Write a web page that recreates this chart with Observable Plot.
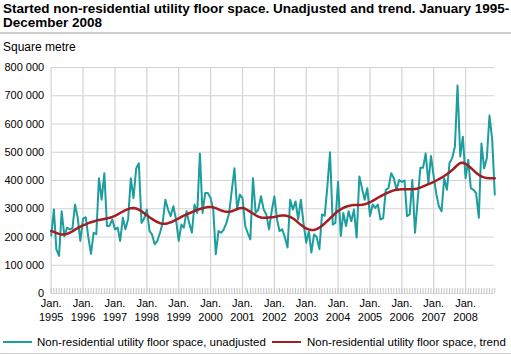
<!DOCTYPE html>
<html><head><meta charset="utf-8">
<script src="https://cdn.jsdelivr.net/npm/d3@7"></script>
<script src="https://cdn.jsdelivr.net/npm/@observablehq/plot@0.6"></script>
<style>
body{margin:0;background:#fff;font-family:"Liberation Sans",Arial,sans-serif;color:#000;}
#wrap{position:relative;width:511px;height:355px;overflow:hidden;background:#fff;}
#title{position:absolute;left:3px;top:2px;font-weight:bold;font-size:13.5px;line-height:14px;white-space:nowrap;}
#rule{position:absolute;left:0;top:32px;width:511px;height:2px;background:#cfcfcf;}
#unit{position:absolute;left:3px;top:40px;font-size:12px;line-height:14px;}
#chart{position:absolute;left:0;top:54px;}
#legend{position:absolute;left:0;top:334px;width:511px;font-size:11.5px;line-height:16px;white-space:nowrap;}
.sw{position:absolute;top:7px;width:29px;height:2px;}
.lbl{position:absolute;top:0;}
#rule2{position:absolute;left:0;top:353px;width:511px;height:1px;background:#cfcfcf;}
</style></head>
<body><div id="wrap">
<div id="title">Started non-residential utility floor space. Unadjusted and trend. January 1995-<br>December 2008</div>
<div id="rule"></div>
<div id="unit">Square metre</div>
<div id="chart"></div>
<div id="legend">
  <div class="sw" style="left:3px;background:#1c9d9e"></div><div class="lbl" style="left:37px" id="l1"></div>
  <div class="sw" style="left:272px;background:#a31d22"></div><div class="lbl" style="left:307px" id="l2"></div>
</div>
<div id="rule2"></div>
</div>
<script>
// Monthly values, thousand square metres, Jan 1995 - Dec 2008
const unadjustedThousands = [
  205, 297, 157, 133, 291, 203, 233, 227, 230, 315, 268, 186, // 1995
  265, 270, 200, 140, 215, 210, 408, 332, 426, 239, 240, 262, // 1996
  227, 233, 186, 268, 227, 265, 408, 338, 443, 461, 250, 265, // 1997
  297, 221, 209, 174, 186, 215, 250, 332, 297, 274, 309, 262, // 1998
  186, 244, 233, 291, 250, 215, 315, 285, 496, 285, 356, 356, // 1999
  338, 297, 139, 221, 215, 227, 250, 285, 367, 443, 297, 350, // 2000
  338, 239, 215, 192, 408, 285, 297, 344, 297, 280, 227, 290, // 2001
  344, 262, 221, 227, 200, 163, 332, 297, 326, 262, 332, 250, // 2002
  180, 220, 145, 209, 200, 157, 280, 275, 380, 500, 244, 250, // 2003
  396, 204, 285, 239, 291, 256, 297, 198, 414, 373, 332, 373, // 2004
  274, 315, 303, 315, 262, 267, 367, 373, 426, 408, 367, 402, // 2005
  395, 400, 274, 280, 402, 215, 330, 445, 445, 496, 391, 487, // 2006
  414, 350, 309, 291, 408, 367, 461, 480, 520, 736, 485, 555, // 2007
  408, 473, 373, 367, 355, 268, 531, 443, 480, 630, 545, 350  // 2008
];
const trendThousands = [
  221, 218, 214, 211, 209, 209, 211, 215, 220, 226, 232, 237,
  241, 245, 249, 252, 255, 258, 260, 262, 264, 266, 268, 271,
  275, 280, 285, 290, 295, 299, 302, 303, 301, 297, 291, 284,
  277, 270, 264, 258, 253, 249, 247, 247, 249, 252, 256, 261,
  266, 271, 276, 280, 284, 288, 292, 296, 299, 302, 304, 306,
  306, 305, 302, 298, 294, 291, 289, 289, 291, 295, 299, 302,
  303, 300, 295, 289, 283, 277, 272, 269, 268, 268, 269, 270,
  271, 273, 275, 276, 276, 274, 271, 266, 259, 251, 243, 236,
  230, 227, 225, 225, 228, 233, 240, 248, 257, 266, 275, 284,
  292, 298, 303, 307, 310, 312, 313, 313, 313, 314, 316, 319,
  323, 328, 333, 339, 344, 349, 354, 358, 362, 365, 367, 368,
  369, 369, 369, 369, 369, 370, 372, 375, 379, 383, 387, 391,
  395, 400, 405, 410, 416, 422, 429, 437, 446, 455, 462, 463,
  459, 452, 445, 436, 427, 420, 414, 411, 409, 408, 408, 408
];
const yearLabels = ["1995","1996","1997","1998","1999","2000","2001","2002","2003","2004","2005","2006","2007","2008"];
const yTicks = [0, 100000, 200000, 300000, 400000, 500000, 600000, 700000, 800000];
const seriesNames = ["Non-residential utility floor space, unadjusted", "Non-residential utility floor space, trend"];
const colors = ["#1c9d9e", "#a31d22"];

document.getElementById("l1").textContent = seriesNames[0];
document.getElementById("l2").textContent = seriesNames[1];

const firstYear = +yearLabels[0];
const rows = unadjustedThousands.map((v, i) => ({
  date: new Date(Date.UTC(firstYear, i, 1)),
  unadjusted: v * 1000,
  trend: trendThousands[i] * 1000
}));
const yearDates = yearLabels.map(y => new Date(Date.UTC(+y, 0, 1)));
const monthDates = rows.map(r => r.date);
const fmt = d => d3.format(",")(d).replace(/,/g, " ");

const chart = Plot.plot({
  width: 511, height: 271,
  marginLeft: 50.7, marginRight: 16.7, marginTop: 13, marginBottom: 32,
  x: {type: "utc", domain: [rows[0].date, rows[rows.length - 1].date]},
  y: {domain: [0, 800000]},
  style: {fontFamily: "'Liberation Sans', Arial, sans-serif", fontSize: "11px", color: "#000", background: "transparent", overflow: "visible"},
  marks: [
    Plot.gridY(yTicks, {stroke: "#d3d3d3", strokeOpacity: 1, strokeWidth: 1.2}),
    Plot.gridX(yearDates, {stroke: "#d3d3d3", strokeOpacity: 1, strokeWidth: 1.2}),
    Plot.axisX(monthDates, {tickSize: 5, dy: -5, tickFormat: () => "", stroke: "#c4c4c4", label: null}),
    Plot.axisX(yearDates, {tickSize: 0, tickPadding: 4, label: null, fontSize: 11, lineHeight: 1.25,
      tickFormat: d => "Jan.\n" + yearLabels[d.getUTCFullYear() - firstYear]}),
    Plot.axisY(yTicks, {tickSize: 0, tickPadding: 7, label: null, fontSize: 11, tickFormat: fmt}),
    Plot.lineY(rows, {x: "date", y: "unadjusted", stroke: colors[0], strokeWidth: 2}),
    Plot.lineY(rows, {x: "date", y: "trend", stroke: colors[1], strokeWidth: 2.5})
  ]
});
document.getElementById("chart").appendChild(chart);
</script>
</body></html>
